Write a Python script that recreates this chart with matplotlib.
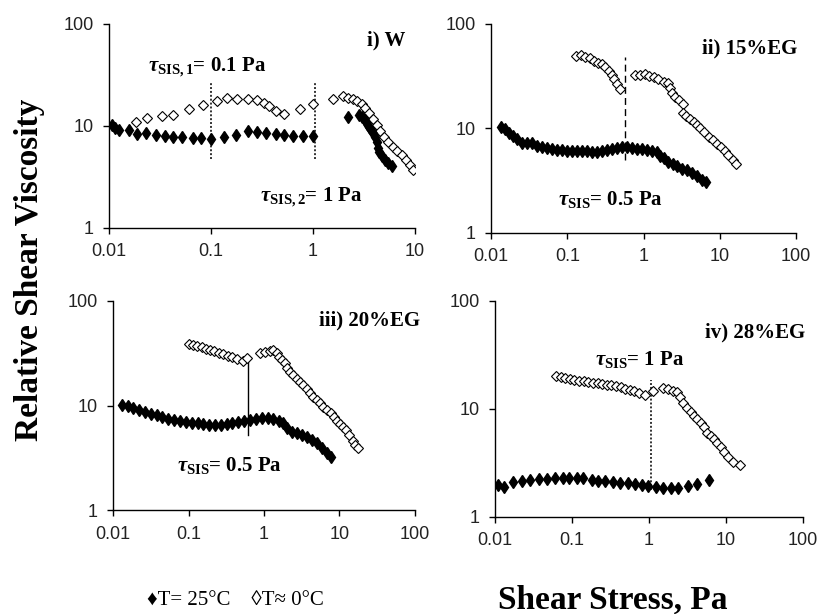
import matplotlib
matplotlib.use("Agg")
import matplotlib.pyplot as plt
from matplotlib.ticker import FixedLocator, FuncFormatter, NullLocator

# ---- data ----
# i) W
w_warm_x = [0.0106, 0.0114, 0.0126, 0.0157, 0.0186, 0.0232, 0.029, 0.0357, 0.0427, 0.0519,
            0.066, 0.0806, 0.100, 0.133, 0.175, 0.231, 0.284, 0.35, 0.43, 0.523, 0.635, 0.79, 1.01,
            2.22, 2.85, 3.0, 3.24, 3.4, 3.57, 3.68, 3.85, 4.05, 4.2, 4.36, 4.47, 4.71, 5.08, 5.47, 5.9]
w_warm_y = [10.1, 9.55, 9.2, 9.07, 8.4, 8.55, 8.2, 8.04, 7.8, 7.8,
            7.63, 7.63, 7.46, 7.8, 8.2, 8.87, 8.68, 8.55, 8.4, 8.2, 8.04, 7.9, 7.9,
            12.3, 12.8, 12.2, 11.3, 10.5, 9.8, 9.14, 8.47, 7.85, 7.0, 6.04, 5.6, 5.08, 4.64, 4.31, 4.05]
w_cold_x = [0.0183, 0.0237, 0.0332, 0.042, 0.0603, 0.0836, 0.1135, 0.143, 0.178, 0.23, 0.28,
            0.33, 0.37, 0.43, 0.523, 0.75, 1.01,
            1.56, 1.98, 2.22, 2.48, 2.72, 3.0, 3.24, 3.57, 3.9, 4.2, 4.54, 4.97, 5.47, 6.04,
            6.6, 7.4, 8.2, 8.9, 9.6]
w_cold_y = [10.9, 12.0, 12.4, 12.9, 14.5, 16.1, 17.6, 18.7, 18.4, 18.4, 17.9,
            16.8, 15.6, 13.9, 13.2, 14.7, 16.4,
            18.4, 19.7, 18.9, 18.3, 17.7, 16.4, 14.9, 13.3, 11.6, 10.2, 9.0, 7.85, 7.0, 6.27,
            5.73, 5.2, 4.64, 4.15, 3.7]

# ii) 15%EG
eg15_warm_x = [0.0134, 0.0153, 0.0169, 0.0192, 0.0217, 0.0252, 0.0294, 0.0342, 0.0397, 0.0462,
               0.0538, 0.0625, 0.0728, 0.0846, 0.0984, 0.114, 0.133, 0.155, 0.18, 0.209, 0.243,
               0.283, 0.329, 0.383, 0.445, 0.518, 0.603, 0.70, 0.815, 0.947, 1.10, 1.28, 1.49,
               1.64, 1.82, 2.11, 2.41, 2.72, 3.17, 3.68, 4.29, 4.99, 5.8, 6.6]
eg15_warm_y = [10.3, 9.8, 9.1, 8.5, 7.87, 7.2, 7.3, 7.2, 6.8, 6.6,
               6.5, 6.3, 6.2, 6.2, 6.1, 6.1, 6.05, 6.0, 6.0, 5.96, 5.96,
               6.1, 6.2, 6.4, 6.5, 6.6, 6.6, 6.5, 6.4, 6.3, 6.2, 6.1, 5.87,
               5.45, 5.19, 4.81, 4.57, 4.38, 4.06, 3.95, 3.72, 3.46, 3.21, 3.08]
eg15_cold_x = [0.130, 0.150, 0.171, 0.195, 0.220, 0.248, 0.283, 0.313, 0.346, 0.383, 0.414,
               0.445, 0.492,
               0.774, 0.90, 1.05, 1.19, 1.37, 1.56, 1.82, 2.11, 2.18, 2.34, 2.59, 2.86, 3.27,
               3.27, 3.61, 4.07, 4.5, 4.99, 5.5, 6.2, 7.08, 8.07, 9.12, 10.3, 11.7, 12.9,
               14.8, 16.3]
eg15_cold_y = [49.4, 50.5, 48.6, 47, 44.6, 42.7, 41.4, 39, 35.7, 32.5, 29.6,
               26.7, 23.7,
               32.5, 32.5, 33.2, 31.8, 30.9, 29.6, 28, 27, 24.2, 21.7, 19.9, 18.5, 17.1,
               14.0, 13.0, 12.2, 11.6, 10.8, 10.0, 9.3, 8.35, 7.76, 7.11, 6.6, 6.0, 5.57,
               4.92, 4.57]

# iii) 20%EG
eg20_warm_x = [0.013, 0.0157, 0.0186, 0.0221, 0.0265, 0.0318, 0.0379, 0.045, 0.054, 0.0649,
               0.0771, 0.0918, 0.110, 0.132, 0.157, 0.187, 0.224, 0.269, 0.321, 0.38, 0.457,
               0.548, 0.653, 0.776, 0.933, 1.12, 1.33, 1.58, 1.8, 2.0, 2.33, 2.71, 3.16, 3.67,
               4.28, 4.99, 5.8, 6.76, 7.71]
eg20_warm_y = [10.1, 9.9, 9.4, 9.06, 8.67, 8.3, 8.06, 7.8, 7.48, 7.27,
               7.1, 6.95, 6.85, 6.76, 6.65, 6.56, 6.56, 6.56, 6.65, 6.76, 6.9,
               7.1, 7.27, 7.48, 7.59, 7.59, 7.38, 7.16, 6.76, 6.04, 5.61, 5.42, 5.19, 4.97,
               4.68, 4.35, 3.89, 3.49, 3.24]
eg20_cold_x = [0.10, 0.115, 0.13, 0.15, 0.17, 0.195, 0.22, 0.25, 0.29, 0.33, 0.38, 0.44, 0.52, 0.60,
               0.885, 1.03, 1.2, 1.33, 1.47, 1.6, 1.71, 1.9, 2.0, 2.21, 2.44, 2.71, 3.0, 3.32,
               3.67, 4.06, 4.5, 4.99, 5.52, 6.1, 6.76, 7.64, 8.45, 9.16, 10.2, 11.2, 12.3, 13.5,
               15.0, 16.3, 17.7]
eg20_cold_y = [39, 38, 37, 36, 35, 34, 33, 32, 31, 30, 29, 28, 26.5, 28.5,
               31.6, 32.7, 33.5, 34, 32, 29.3, 27.2, 25.3, 22.7, 21.1, 19.6, 17.8, 16.9, 15.7,
               14.3, 13.1, 12.1, 11.3, 10.5, 9.75, 9.06, 8.41, 7.7, 7.16, 6.65, 6.18, 5.8, 5.2,
               4.6, 4.2, 3.9]

# iv) 28%EG
eg28_warm_x = [0.0107, 0.0128, 0.017, 0.0222, 0.0279, 0.0365, 0.0469, 0.0601, 0.0757, 0.0923,
               0.115, 0.14, 0.18, 0.22, 0.268, 0.338, 0.42, 0.539, 0.658, 0.803, 0.98, 1.23,
               1.53, 1.91, 2.4, 3.24, 4.24, 6.0]
eg28_warm_y = [1.98, 1.91, 2.12, 2.17, 2.2, 2.23, 2.23, 2.28, 2.28, 2.28,
               2.28, 2.28, 2.2, 2.17, 2.17, 2.12, 2.05, 2.05, 2.02, 1.98, 1.94, 1.88,
               1.84, 1.84, 1.84, 1.94, 2.02, 2.2]
eg28_cold_x = [0.062, 0.071, 0.081, 0.093, 0.107, 0.123, 0.141, 0.162, 0.186, 0.214, 0.245,
               0.281, 0.323, 0.371, 0.426, 0.489, 0.561, 0.645, 0.740, 0.887,
               1.14, 1.51, 1.78, 2.07, 2.33, 2.53, 2.79, 3.08, 3.48, 3.84, 4.24, 4.69, 5.18,
               5.73, 6.32, 6.98, 7.71, 8.53, 9.42, 10.7, 12.4, 15.2]
eg28_cold_y = [20.2, 19.7, 19.2, 18.8, 18.6, 18.3, 18.0, 17.8, 17.5, 17.3, 17.0,
               16.8, 16.6, 16.3, 15.9, 15.4, 15.0, 14.6, 14.0, 13.5,
               14.5, 15.5, 15.2, 14.8, 14.2, 13.0, 11.3, 10.1, 9.44, 8.61, 8.02, 7.47, 6.76,
               6.04, 5.62, 5.24, 4.81, 4.42, 4.03, 3.61, 3.25, 3.03]

SERIF = ["Liberation Serif", "DejaVu Serif"]
plt.rcParams["mathtext.fontset"] = "custom"
plt.rcParams["mathtext.rm"] = "Liberation Serif:bold"
plt.rcParams["mathtext.it"] = "Liberation Serif:italic:bold"
plt.rcParams["mathtext.bf"] = "Liberation Serif:bold"

fig = plt.figure(figsize=(8.2, 6.14), dpi=100)


def make_panel(rect, xmax, warm_x, warm_y, cold_x, cold_y):
    ax = fig.add_axes(rect)
    ax.set_xscale("log")
    ax.set_yscale("log")
    ax.set_xlim(0.01, xmax)
    ax.set_ylim(1, 100)
    ax.plot(cold_x, cold_y, linestyle="none", marker="D", markersize=5,
            markerfacecolor="white", markeredgecolor="black", markeredgewidth=0.8, zorder=3)
    ax.plot(warm_x, warm_y, linestyle="none", marker="d", markersize=6.5,
            color="black", zorder=4)
    for s in ["top", "right"]:
        ax.spines[s].set_visible(False)
    for s in ["left", "bottom"]:
        ax.spines[s].set_linewidth(1.0)
    xt = [t for t in [0.01, 0.1, 1, 10, 100] if t <= xmax]
    ax.xaxis.set_major_locator(FixedLocator(xt))
    ax.yaxis.set_major_locator(FixedLocator([1, 10, 100]))
    ax.xaxis.set_minor_locator(NullLocator())
    ax.yaxis.set_minor_locator(NullLocator())
    fmt = FuncFormatter(lambda v, _: f"{v:g}")
    ax.xaxis.set_major_formatter(fmt)
    ax.yaxis.set_major_formatter(fmt)
    ax.tick_params(direction="out", length=4, width=1, labelsize=13, pad=7,
                   labelcolor="#222222")
    for lab in ax.get_xticklabels() + ax.get_yticklabels():
        lab.set_fontfamily("Liberation Sans")
    return ax


bold = dict(family=SERIF, fontweight="bold", fontsize=15)

ax1 = make_panel([0.133, 0.629, 0.373, 0.332], 10, w_warm_x, w_warm_y, w_cold_x, w_cold_y)
ax1.plot([0.1, 0.1], [4.75, 27], color="#333333", linestyle=(0, (1, 1)), lw=1.4)
ax1.plot([1.05, 1.05], [4.75, 27], color="#333333", linestyle=(0, (1, 1)), lw=1.4)
fig.text(405 / 820, 1 - 40 / 614, "i) W", ha="right", va="center", **bold)
fig.text(148 / 820, 1 - 67 / 614, r"$\tau_{\mathrm{SIS,1}}$= 0.1 Pa", ha="left", va="center", **bold)
fig.text(260 / 820, 1 - 197 / 614, r"$\tau_{\mathrm{SIS,2}}$= 1 Pa", ha="left", va="center", **bold)

ax2 = make_panel([0.599, 0.621, 0.372, 0.340], 100, eg15_warm_x, eg15_warm_y, eg15_cold_x, eg15_cold_y)
ax2.plot([0.57, 0.57], [5.0, 48], color="black", linestyle=(0, (5, 3)), lw=1.0)
fig.text(797 / 820, 1 - 48 / 614, "ii) 15%EG", ha="right", va="center", **bold)
fig.text(558 / 820, 1 - 200 / 614, r"$\tau_{\mathrm{SIS}}$= 0.5 Pa", ha="left", va="center", **bold)

ax3 = make_panel([0.138, 0.169, 0.368, 0.341], 100, eg20_warm_x, eg20_warm_y, eg20_cold_x, eg20_cold_y)
ax3.plot([0.62, 0.62], [5.2, 27.7], color="black", linestyle="-", lw=1.0)
fig.text(420 / 820, 1 - 320 / 614, "iii) 20%EG", ha="right", va="center", **bold)
fig.text(177 / 820, 1 - 466 / 614, r"$\tau_{\mathrm{SIS}}$= 0.5 Pa", ha="left", va="center", **bold)

ax4 = make_panel([0.604, 0.158, 0.375, 0.352], 100, eg28_warm_x, eg28_warm_y, eg28_cold_x, eg28_cold_y)
ax4.plot([1.05, 1.05], [1.78, 18.6], color="#333333", linestyle=(0, (1, 1)), lw=1.4)
fig.text(805 / 820, 1 - 332 / 614, "iv) 28%EG", ha="right", va="center", **bold)
fig.text(595 / 820, 1 - 360 / 614, r"$\tau_{\mathrm{SIS}}$= 1 Pa", ha="left", va="center", **bold)

fig.text(30 / 820, 1 - 270 / 614, "Relative Shear Viscosity", rotation=90, ha="center", va="center",
         family=SERIF, fontweight="bold", fontsize=24)
fig.text(613 / 820, 1 - 600 / 614, "Shear Stress, Pa", ha="center", va="center",
         family=SERIF, fontweight="bold", fontsize=24)
fig.text(147 / 820, 1 - 601 / 614, "\u2666T= 25\u00b0C    \u25caT\u2248 0\u00b0C", ha="left", va="center",
         family=SERIF, fontsize=15)

fig.savefig("out.png", dpi=100)
